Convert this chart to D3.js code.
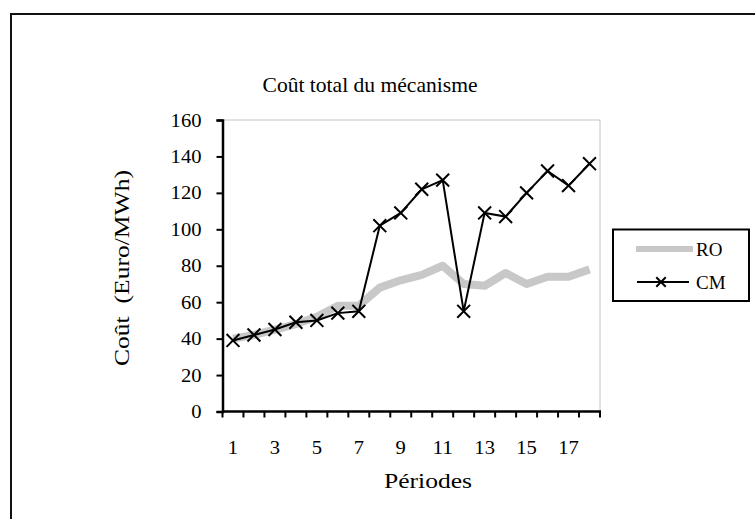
<!DOCTYPE html>
<html><head><meta charset="utf-8">
<script src="https://cdn.jsdelivr.net/npm/d3@7"></script>
<style>body{margin:0;background:#fff}svg{display:block}text{font-family:"Liberation Serif","Times New Roman",serif;fill:#000}</style>
</head><body>
<svg id="c" width="755" height="519"></svg>
<script>
const periods = d3.range(1, 19);
const roValues = [40,42,45,48,52,58,58,68,72,75,80,70,69,76,70,74,74,78];
const cmValues = [39,42,45,49,50,54,55,102,109,122,127,55,109,107,120,132,124,136];
const yTicks = [0,20,40,60,80,100,120,140,160];
const xTickLabels = [1,3,5,7,9,11,13,15,17];
const seriesNames = ["RO","CM"];

const svg = d3.select("#c");
const L = 222.5, R = 600, T = 120, B = 411.5;

svg.append("rect").attr("x",11).attr("y",14).attr("width",800).attr("height",600)
  .attr("fill","none").attr("stroke","#111").attr("stroke-width",2);

const x = d3.scaleBand().domain(periods).range([L,R]).paddingInner(0).paddingOuter(0);
const y = d3.scaleLinear().domain([0,160]).range([B,T]);

// plot area border (dotted)
svg.append("rect").attr("x",L).attr("y",T).attr("width",R-L).attr("height",B-T)
  .attr("fill","none").attr("stroke","#888").attr("stroke-width",1).attr("stroke-dasharray","1,1");

// title
svg.append("text").attr("x",370).attr("y",92).attr("text-anchor","middle")
  .attr("textLength",215).attr("lengthAdjust","spacingAndGlyphs")
  .style("font-size","21px").text("Coût total du mécanisme");

// y axis
const yAxis = svg.append("g").attr("transform",`translate(${L},0)`)
  .call(d3.axisLeft(y).tickValues(yTicks).tickSize(6).tickPadding(15));
yAxis.select(".domain").attr("stroke","#000").attr("stroke-width",2.5);
yAxis.selectAll(".tick line").attr("stroke","#000").attr("stroke-width",2);
yAxis.selectAll("text").style("font-size","19px").style("font-family",'"Liberation Serif",serif')
  .attr("textLength",d=>String(d).length*10.3).attr("lengthAdjust","spacingAndGlyphs");

// x axis: ticks at category boundaries
const xAxis = svg.append("g").attr("transform",`translate(0,${B})`);
xAxis.append("line").attr("x1",L).attr("x2",R+1).attr("stroke","#000").attr("stroke-width",2.5);
const bounds = periods.map(p => x(p)).concat([x(18)+x.bandwidth()]);
xAxis.selectAll("line.t").data(bounds).join("line").attr("class","t")
  .attr("x1",d=>d).attr("x2",d=>d).attr("y1",0).attr("y2",6).attr("stroke","#000").attr("stroke-width",2);
xAxis.selectAll("text").data(xTickLabels).join("text")
  .attr("x",d=>x(d)+x.bandwidth()/2).attr("y",42).attr("text-anchor","middle")
  .attr("textLength",d=>String(d).length*10.3).attr("lengthAdjust","spacingAndGlyphs")
  .style("font-size","19px").text(d=>d);

// axis titles
svg.append("text").attr("x",428).attr("y",488).attr("text-anchor","middle")
  .attr("textLength",88).attr("lengthAdjust","spacingAndGlyphs")
  .style("font-size","21px").text("Périodes");
svg.append("text").attr("transform","translate(129,268) rotate(-90)").attr("text-anchor","middle")
  .attr("textLength",196).attr("lengthAdjust","spacingAndGlyphs")
  .style("font-size","21px").attr("xml:space","preserve").text("Coût  (Euro/MWh)");

const cx = d => x(d)+x.bandwidth()/2;
const line = d3.line().x((d,i)=>cx(periods[i])).y(d=>y(d));

// RO: thick gray
svg.append("path").datum(roValues).attr("d",line).attr("fill","none")
  .attr("stroke","#c8c8c8").attr("stroke-width",8).attr("stroke-linejoin","round");

// CM line with X markers
svg.append("path").datum(cmValues).attr("d",line).attr("fill","none")
  .attr("stroke","#000").attr("stroke-width",2);
const xm = d3.symbol().type(d3.symbolX).size(110);
svg.selectAll("path.m").data(cmValues).join("path").attr("class","m")
  .attr("d",xm).attr("transform",(d,i)=>`translate(${cx(periods[i])},${y(d)})`)
  .attr("fill","none").attr("stroke","#000").attr("stroke-width",2);

// legend
const lg = svg.append("g");
lg.append("rect").attr("x",613).attr("y",229.5).attr("width",136).attr("height",71.5)
  .attr("fill","#fff").attr("stroke","#000").attr("stroke-width",2);
lg.append("line").attr("x1",636).attr("x2",693).attr("y1",249).attr("y2",249)
  .attr("stroke","#c8c8c8").attr("stroke-width",6);
lg.append("text").attr("x",696).attr("y",256).style("font-size","19px").text(seriesNames[0]);
lg.append("line").attr("x1",637).attr("x2",689).attr("y1",282).attr("y2",282)
  .attr("stroke","#000").attr("stroke-width",2);
lg.append("path").attr("d",d3.symbol().type(d3.symbolX).size(60)).attr("transform","translate(661,282)")
  .attr("stroke","#000").attr("stroke-width",2).attr("fill","none");
lg.append("text").attr("x",696).attr("y",289).style("font-size","19px").text(seriesNames[1]);
</script>
</body></html>
